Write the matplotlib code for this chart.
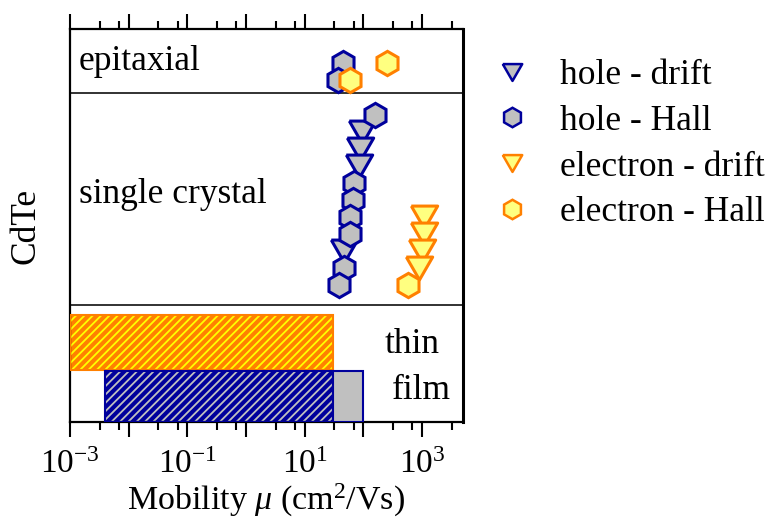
import numpy as np
import matplotlib
matplotlib.use("Agg")
import matplotlib.pyplot as plt
from matplotlib.lines import Line2D
from matplotlib.ticker import FixedLocator, FixedFormatter, NullFormatter

plt.rcParams['font.family'] = ['Liberation Serif', 'DejaVu Serif']
plt.rcParams['mathtext.fontset'] = 'custom'
plt.rcParams['mathtext.rm'] = 'Liberation Serif'
plt.rcParams['mathtext.it'] = 'Liberation Serif:italic'
plt.rcParams['hatch.linewidth'] = 1.3

# mobilites (cm2/Vs) et rangée de chaque point
epi_trou_hall = [45, 37]
epi_trou_hall_rang = [21, 20]
epi_elec_hall = [250, 60]
epi_elec_hall_rang = [21, 20]

mono_trou_drift = [95, 89, 86, 47]
mono_trou_drift_rang = [17, 16, 15, 10]
mono_trou_hall = [160, 69, 66, 60, 60, 47, 39]
mono_trou_hall_rang = [18, 14, 13, 12, 11, 9, 8]
mono_elec_drift = [1100, 1100, 1020, 900]
mono_elec_drift_rang = [12, 11, 10, 9]
mono_elec_hall = [570]
mono_elec_hall_rang = [8]

# couches minces : plages de mobilité
film_elec = (1e-3, 30)
film_trou = (4e-3, 30)
film_trou_hall_max = 100

legende = ["hole - drift", "hole - Hall", "electron - drift", "electron - Hall"]

BLEU = '#00009C'
GRIS = '#C0C0C0'
ORANGE = '#FF8000'
JAUNE = '#FFFF80'
FS = 25.5

# triangle pointe en bas, équilatéral
tri = [(-1, 0.866), (1, 0.866), (0, -0.866), (-1, 0.866)]

fig = plt.figure(figsize=(7.69, 5.20), dpi=100)
ax = fig.add_axes([70/769, 1 - 421.7/520, (463 - 70)/769, (421.7 - 29.3)/520])

def points(x, y, marker, face, edge, ms):
    ax.plot(x, y, linestyle='none', marker=marker, ms=ms, mfc=face, mec=edge,
            mew=2.2, zorder=5)

points(mono_trou_drift, mono_trou_drift_rang, tri, GRIS, BLEU, 19)
points(epi_trou_hall, epi_trou_hall_rang, 'h', GRIS, BLEU, 17.5)
points(mono_trou_hall, mono_trou_hall_rang, 'h', GRIS, BLEU, 17.5)
points(mono_elec_drift, mono_elec_drift_rang, tri, JAUNE, ORANGE, 19)
points(epi_elec_hall, epi_elec_hall_rang, 'h', JAUNE, ORANGE, 17.5)
points(mono_elec_hall, mono_elec_hall_rang, 'h', JAUNE, ORANGE, 17.5)

# barres couches minces
g, d = film_elec
ax.barh(4.65, d - g, left=g, height=3.2, facecolor=ORANGE, edgecolor='#FFFF00',
        hatch='////', linewidth=0, zorder=2)
ax.barh(4.65, d - g, left=g, height=3.2, fill=False, edgecolor=ORANGE,
        linewidth=1.5, zorder=3)
g, d = film_trou
ax.barh(1.5, d - g, left=g, height=3.0, facecolor=BLEU, edgecolor=GRIS,
        hatch='////', linewidth=0, zorder=2)
ax.barh(1.5, d - g, left=g, height=3.0, fill=False, edgecolor=BLEU,
        linewidth=1.5, zorder=3)
ax.barh(1.5, film_trou_hall_max - d, left=d, height=3.0, facecolor=GRIS,
        edgecolor=BLEU, linewidth=1.5, zorder=3)

# séparations entre catégories
ax.axhline(19.25, color='#222222', lw=1.3, zorder=1)
ax.axhline(6.84, color='#222222', lw=1.3, zorder=1)

ax.text(0.022, 21.1, "epitaxial", transform=ax.get_yaxis_transform(),
        fontsize=FS, va='center', ha='left')
ax.text(0.022, 13.3, "single crystal", transform=ax.get_yaxis_transform(),
        fontsize=FS, va='center', ha='left')
ax.text(0.80, 4.5, "thin", transform=ax.get_yaxis_transform(),
        fontsize=FS, va='center', ha='left')
ax.text(0.82, 1.85, "film", transform=ax.get_yaxis_transform(),
        fontsize=FS, va='center', ha='left')

ax.set_xscale('log')
ax.set_xlim(1e-3, 5e3)
ax.set_ylim(0, 23)

majeurs = [10.0 ** k for k in range(-3, 4)]
etiquettes = [r'$10^{%d}$' % k if k % 2 else '' for k in range(-3, 4)]
mineurs = [m * 10.0 ** k for k in range(-3, 4) for m in (3.2, 6.8) if m * 10.0 ** k < 5e3]
ax.xaxis.set_major_locator(FixedLocator(majeurs))
ax.xaxis.set_major_formatter(FixedFormatter(etiquettes))
ax.xaxis.set_minor_locator(FixedLocator(mineurs))
ax.xaxis.set_minor_formatter(NullFormatter())
ax.tick_params(axis='x', which='both', direction='out', top=True, labeltop=False,
               width=1.5, labelsize=24, pad=9)
ax.tick_params(axis='x', which='major', length=11)
ax.tick_params(axis='x', which='minor', length=6)
ax.set_yticks([])

for cote in ['left', 'bottom', 'top']:
    ax.spines[cote].set_linewidth(1.6)
ax.spines['right'].set_linewidth(2.2)

ax.set_xlabel(r"Mobility $\mu$ (cm$^2$/Vs)", fontsize=24.5, labelpad=1)
ax.set_ylabel("CdTe", fontsize=FS, labelpad=20)

poignees = [
    Line2D([], [], ls='none', marker=tri, ms=14, mfc=GRIS, mec=BLEU, mew=1.8),
    Line2D([], [], ls='none', marker='h', ms=14, mfc=GRIS, mec=BLEU, mew=1.8),
    Line2D([], [], ls='none', marker=tri, ms=14, mfc=JAUNE, mec=ORANGE, mew=1.8),
    Line2D([], [], ls='none', marker='h', ms=14, mfc=JAUNE, mec=ORANGE, mew=1.8),
]
fig.legend(poignees, legende, loc='upper left', bbox_to_anchor=(494/769, 1 - 59/520),
           frameon=False, fontsize=FS, handlelength=1.0, handletextpad=0.85,
           labelspacing=0.36, borderpad=0, borderaxespad=0)

fig.savefig("out.png", dpi=100)
